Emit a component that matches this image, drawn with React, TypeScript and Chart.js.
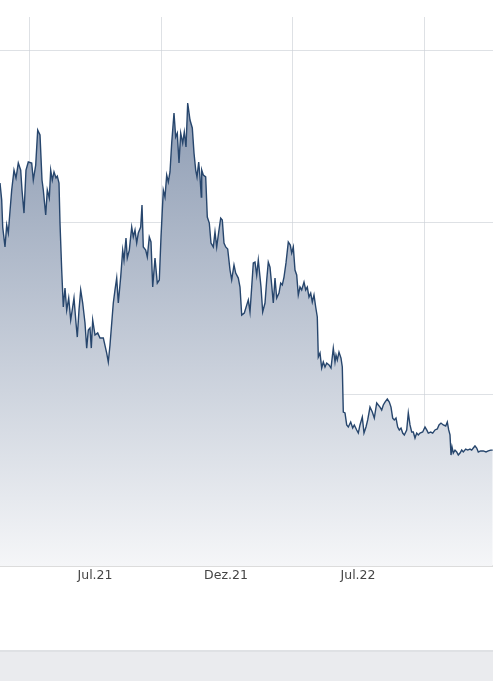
import { useEffect, useRef } from 'react';
import { Chart, registerables } from 'chart.js';

Chart.register(...registerables);

// x position of each quote (trading-day index along the visible window)
const days = [
  0, 1.7, 2.7, 5, 6.7, 8.3, 9.3, 11.7, 14, 16,
  18.3, 20.7, 22, 24, 26, 28.3, 31.7, 33.3, 35.7, 37.7,
  40, 42, 43.3, 45.7, 47.3, 49.3, 50.7, 52.3, 54, 56,
  57.3, 59, 60, 61.7, 63.3, 65, 66.7, 68.7, 70.7, 72.7,
  74, 76, 77.3, 79, 80.7, 82.7, 85, 86.7, 88.3, 90,
  91.3, 92.7, 95, 97.7, 100, 103.3, 106.7, 108.3, 110, 113.3,
  115, 116.7, 118.3, 120.7, 122.7, 124, 126, 127.3, 129.3, 131.7,
  133.3, 135, 136.7, 138.3, 140.7, 142, 143.3, 145.7, 147.3, 149.3,
  151, 152.7, 155, 157.3, 159.3, 161, 163.3, 165, 166.7, 168.3,
  170, 171.7, 174, 175.7, 177.3, 179, 180.7, 182.7, 184.3, 186,
  187.7, 190, 192.3, 194, 195.7, 197, 198.7, 200, 201.3, 201.7,
  203.3, 205.7, 207.3, 209.3, 211, 213.3, 215, 216.7, 218.7, 220.7,
  222.3, 224, 225.7, 227.7, 230, 231.7, 234, 235.7, 238.3, 240,
  241.7, 244.3, 246.7, 248.3, 250, 251.7, 253.3, 255, 256.7, 258.3,
  261, 262.7, 265, 266.7, 268.3, 270, 271.7, 273.3, 275, 276.7,
  279, 280.7, 282.3, 284, 286, 288.3, 290.3, 291.7, 293.3, 295,
  296.7, 298.3, 300, 301.7, 304, 305.7, 307.3, 309, 310.7, 312.3,
  314, 315.7, 317.3, 318.3, 320, 321.7, 323.3, 325, 326.7, 329,
  331, 333.3, 335, 336, 337.3, 339, 341, 342.3, 343.3, 345,
  346.7, 348.3, 350.7, 352.7, 354.3, 356.7, 358.3, 360, 362.3, 364,
  366, 367.7, 370, 372.3, 374.3, 376.7, 378.3, 380, 381.7, 383.3,
  385, 387.3, 389.3, 391, 392.7, 394.3, 396, 397.7, 399.3, 401,
  402.7, 404.3, 406.7, 408.3, 410, 411.7, 413.3, 415, 416.7, 418.3,
  420, 422.7, 425, 426.7, 428.3, 430.7, 432.7, 435, 437.3, 439,
  441, 443.3, 445.7, 447.3, 448.7, 450, 451, 452, 453.3, 455,
  456.7, 458.3, 460, 461.7, 463.3, 465.7, 467.7, 470, 471.7, 473.3,
  475, 476.7, 478.3, 480.7, 483.3, 486, 488.3, 490.7, 492.7,
];

const prices = [
  22.27, 21.28, 19.71, 18.55, 19.83, 19.36, 20.12, 21.86, 23.02, 22.56,
  23.43, 23.02, 21.86, 20.52, 23.02, 23.49, 23.43, 22.44, 23.31, 25.35,
  25.06, 22.44, 21.86, 20.41, 21.86, 21.40, 23.02, 22.44, 22.91, 22.56,
  22.67, 22.27, 19.94, 17.21, 15.06, 16.16, 14.88, 15.58, 14.30, 15.06,
  15.58, 14.13, 13.31, 14.88, 16.05, 15.29, 14.13, 12.67, 13.72, 13.84,
  12.67, 14.30, 13.43, 13.55, 13.26, 13.26, 12.38, 11.86, 12.85, 15.29,
  16.05, 16.74, 15.29, 16.80, 18.37, 17.79, 19.07, 17.91, 18.37, 19.71,
  19.13, 19.53, 18.78, 19.36, 19.71, 20.99, 18.55, 18.37, 17.97, 19.13,
  18.84, 16.22, 17.91, 16.45, 16.63, 19.13, 21.86, 21.45, 22.73, 22.33,
  22.91, 24.59, 26.34, 24.94, 25.17, 23.43, 25.17, 24.59, 25.23, 24.36,
  26.92, 25.93, 25.47, 24.01, 23.02, 22.62, 23.49, 22.62, 21.45, 23.02,
  22.73, 22.62, 20.29, 19.94, 18.78, 18.55, 19.42, 18.55, 19.42, 20.23,
  20.12, 18.78, 18.55, 18.43, 17.21, 16.63, 17.50, 17.03, 16.74, 16.22,
  14.59, 14.71, 15.17, 15.47, 14.77, 16.22, 17.62, 17.67, 16.92, 17.79,
  16.22, 14.77, 15.29, 16.63, 17.67, 17.38, 16.34, 15.29, 16.74, 15.58,
  15.87, 16.45, 16.34, 16.80, 17.62, 18.84, 18.66, 18.20, 18.55, 17.21,
  16.92, 15.76, 16.22, 16.05, 16.51, 16.05, 16.22, 15.64, 15.87, 15.35,
  15.76, 15.06, 14.48, 12.15, 12.38, 11.51, 11.86, 11.57, 11.80, 11.69,
  11.51, 12.67, 11.86, 12.27, 11.98, 12.44, 12.09, 11.57, 8.95, 8.90,
  8.20, 8.08, 8.37, 8.02, 8.20, 7.91, 7.73, 8.20, 8.66, 7.73,
  8.08, 8.49, 9.24, 8.95, 8.60, 9.48, 9.36, 9.24, 9.07, 9.36,
  9.53, 9.71, 9.53, 9.24, 8.60, 8.49, 8.60, 8.08, 7.91, 8.02,
  7.73, 7.62, 7.91, 8.90, 8.20, 7.79, 7.79, 7.44, 7.73, 7.62,
  7.73, 7.79, 8.08, 7.91, 7.73, 7.79, 7.73, 7.91, 7.97, 8.20,
  8.31, 8.20, 8.14, 8.37, 7.91, 7.62, 6.45, 6.92, 6.57, 6.74,
  6.63, 6.45, 6.57, 6.74, 6.63, 6.80, 6.74, 6.80, 6.74, 6.86,
  6.98, 6.86, 6.63, 6.69, 6.69, 6.63, 6.69, 6.74, 6.74,
];

// vertical grid positions and the month labels sitting between them
const gridDays = [29, 161, 292, 424];
const labelDays = [95, 226, 358];
const monthLabels = ['Jul.21', 'Dez.21', 'Jul.22'];

const GRID = 'rgba(205, 209, 215, 0.65)';

export default function App() {
  const canvasRef = useRef<HTMLCanvasElement>(null);
  const chartRef = useRef<Chart | null>(null);

  useEffect(() => {
    if (!canvasRef.current) return;
    if (chartRef.current) chartRef.current.destroy();

    const ctx = canvasRef.current.getContext('2d');
    if (!ctx) return;

    chartRef.current = new Chart(ctx, {
      type: 'line',
      data: {
        datasets: [{
          data: days.map((d, i) => ({ x: d, y: prices[i] })),
          borderColor: '#27466d',
          borderWidth: 1.4,
          pointRadius: 0,
          tension: 0,
          fill: 'start',
          backgroundColor: (c: any) => {
            const area = c.chart.chartArea;
            if (!area) return '#c0c8d4';
            const g = c.chart.ctx.createLinearGradient(0, area.top, 0, area.bottom);
            g.addColorStop(0, '#7b8ca7');
            g.addColorStop(1, '#f5f6f8');
            return g;
          },
        }],
      },
      options: {
        responsive: true,
        maintainAspectRatio: false,
        animation: false,
        layout: { padding: { top: 17, left: 0, right: 0, bottom: 0 } },
        plugins: {
          legend: { display: false },
          tooltip: { enabled: false },
        },
        scales: {
          x: {
            type: 'linear',
            min: 0,
            max: 493,
            z: 1,
            afterBuildTicks: (scale: any) => {
              scale.ticks = [...gridDays, ...labelDays]
                .sort((a, b) => a - b)
                .map(v => ({ value: v }));
            },
            afterFit: (scale: any) => { scale.height = 84; },
            grid: {
              drawTicks: false,
              color: (c: any) => gridDays.includes(c.tick?.value) ? GRID : 'transparent',
            },
            border: { display: true, color: '#dcdcdc', width: 2 },
            ticks: {
              autoSkip: false,
              maxRotation: 0,
              padding: 2,
              color: '#444444',
              font: { family: 'DejaVu Sans', size: 12.5 },
              callback: (v: any) => {
                const i = labelDays.indexOf(Number(v));
                return i >= 0 ? monthLabels[i] : '';
              },
            },
          },
          y: {
            min: 0,
            max: 31.92,
            z: 1,
            afterBuildTicks: (scale: any) => {
              scale.ticks = [10, 20, 30].map(v => ({ value: v }));
            },
            afterFit: (scale: any) => { scale.width = 0; },
            grid: { drawTicks: false, color: GRID },
            border: { display: false },
            ticks: { display: false },
          },
        },
      },
    });

    return () => {
      chartRef.current?.destroy();
      chartRef.current = null;
    };
  }, []);

  return (
    <div style={{ position: 'absolute', left: 0, top: 0, width: 493, height: 681, background: '#fff', overflow: 'hidden' }}>
      <div style={{ position: 'relative', width: 493, height: 650 }}>
        <canvas ref={canvasRef} />
      </div>
      <div style={{ height: 29, background: '#eaebee', borderTop: '2px solid #dfe1e4' }} />
    </div>
  );
}
